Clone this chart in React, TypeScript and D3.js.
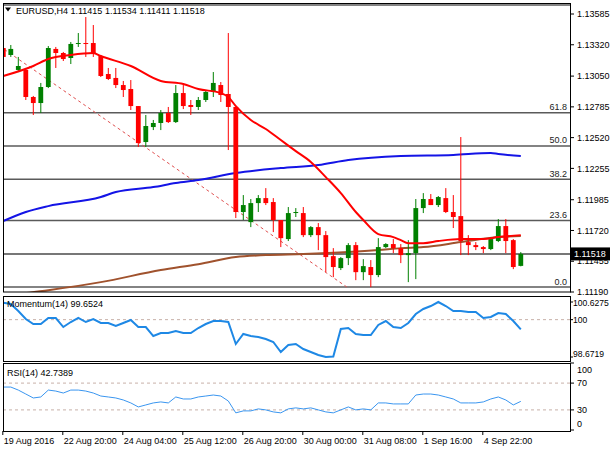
import React from "react";
import * as d3 from "d3";

// EURUSD H4 candles (bar 0 = leftmost)
const open = [
  1.13292, 1.13232, 1.13103, 1.13103, 1.1287, 1.12818, 1.12956, 1.13284, 1.13249, 1.13206,
  1.13327, 1.13335, 1.13335, 1.13223, 1.13068, 1.13034, 1.12973, 1.12939, 1.12792, 1.12482,
  1.12611, 1.12646, 1.12732, 1.12654, 1.12904, 1.12801, 1.12784, 1.12844, 1.12913, 1.12973,
  1.12896, 1.12784, 1.11879, 1.11792, 1.11956, 1.11999, 1.11965, 1.1181, 1.11646, 1.11874,
  1.1187, 1.1168, 1.11749, 1.1168, 1.11499, 1.11396, 1.11482, 1.11594, 1.11361, 1.11405,
  1.11336, 1.11577, 1.11603, 1.11568, 1.11508, 1.11525, 1.11913, 1.11991, 1.11939, 1.11999,
  1.11879, 1.11844, 1.1162, 1.11594, 1.11577, 1.1156, 1.11629, 1.11758, 1.11637, 1.11415,
];
const high = [
  1.13309, 1.13318, 1.13215, 1.1312, 1.12879, 1.12991, 1.13309, 1.13301, 1.13258, 1.13344,
  1.13421, 1.13559, 1.1349, 1.13232, 1.1312, 1.1312, 1.13008, 1.13016, 1.12792, 1.12715,
  1.12672, 1.12758, 1.12784, 1.12973, 1.12973, 1.12844, 1.1287, 1.1293, 1.13085, 1.12999,
  1.13421, 1.12784, 1.12025, 1.11991, 1.12025, 1.12085, 1.11999, 1.1181, 1.11922, 1.11913,
  1.11922, 1.11758, 1.11784, 1.11715, 1.11568, 1.11491, 1.11611, 1.1162, 1.11473, 1.11465,
  1.11654, 1.11611, 1.11646, 1.11603, 1.11637, 1.11991, 1.12042, 1.12034, 1.12017, 1.12085,
  1.12025, 1.12525, 1.1168, 1.1162, 1.11586, 1.11663, 1.11818, 1.11818, 1.11646, 1.11534,
];
const low = [
  1.13172, 1.13215, 1.13085, 1.12844, 1.12715, 1.12732, 1.12947, 1.1312, 1.1318, 1.13154,
  1.13301, 1.13215, 1.13215, 1.13042, 1.13016, 1.12947, 1.1287, 1.12758, 1.12439, 1.12439,
  1.12585, 1.12585, 1.12646, 1.12646, 1.12766, 1.12715, 1.12758, 1.12827, 1.1287, 1.12827,
  1.12413, 1.11827, 1.1181, 1.11749, 1.11879, 1.11939, 1.11706, 1.11577, 1.11629, 1.11836,
  1.11663, 1.11663, 1.11551, 1.11361, 1.11318, 1.11379, 1.11422, 1.11292, 1.11292, 1.11232,
  1.11318, 1.11568, 1.11525, 1.11439, 1.11275, 1.11301, 1.1187, 1.11939, 1.11922, 1.1187,
  1.11741, 1.11508, 1.11508, 1.11551, 1.11525, 1.11551, 1.1162, 1.11525, 1.11387, 1.11411,
];
const close = [
  1.13215, 1.13284, 1.13137, 1.1287, 1.12818, 1.12956, 1.13292, 1.13249, 1.13197, 1.13327,
  1.13335, 1.13327, 1.1324, 1.13051, 1.13025, 1.12973, 1.1293, 1.12792, 1.12473, 1.1262,
  1.12646, 1.12732, 1.12654, 1.12904, 1.12792, 1.12784, 1.12844, 1.12913, 1.12991, 1.12887,
  1.12784, 1.11879, 1.11939, 1.11956, 1.11999, 1.11956, 1.1181, 1.11654, 1.1187, 1.11879,
  1.1168, 1.11749, 1.1168, 1.11491, 1.11405, 1.11482, 1.11594, 1.11361, 1.11413, 1.11336,
  1.11577, 1.11603, 1.11568, 1.11508, 1.11525, 1.11913, 1.11991, 1.11939, 1.12008, 1.11879,
  1.11836, 1.11629, 1.11594, 1.11577, 1.1156, 1.11646, 1.11758, 1.11629, 1.11405, 1.11518,
];

// moving averages, [bar, price] points
const maRed: [number, number][] = [
  [0, 1.13051], [4, 1.13137], [6, 1.13197], [9, 1.13232], [12, 1.13249], [13, 1.13223],
  [17, 1.13137], [21, 1.13008], [24, 1.12982], [26, 1.12939], [29, 1.12904], [30, 1.1287],
  [31, 1.12792], [33, 1.12672], [35, 1.12594], [37, 1.12499], [39, 1.12404], [41, 1.1231],
  [43, 1.1218], [45, 1.12042], [47, 1.11879], [48, 1.1181], [50, 1.11689], [52, 1.11663],
  [53, 1.11637], [54, 1.11611], [56, 1.11611], [58, 1.11629], [61, 1.11646], [64, 1.11646],
  [66, 1.11663], [69, 1.1168],
];
const maBlue: [number, number][] = [
  [0, 1.11801], [3, 1.11879], [6, 1.1193], [13, 1.12008], [15, 1.12051], [20, 1.12094],
  [23, 1.12129], [26, 1.12154], [31, 1.12215], [37, 1.12258], [42, 1.12284], [46, 1.12327],
  [53, 1.12361], [60, 1.1237], [65, 1.12387], [66, 1.12379], [69, 1.12361],
];
const maBrown: [number, number][] = [
  [0, 1.11137], [3, 1.1118], [6, 1.11206], [13, 1.11275], [21, 1.11379], [26, 1.1143],
  [31, 1.11491], [35, 1.11508], [40, 1.11517], [46, 1.11534], [50, 1.11551], [53, 1.11568],
  [56, 1.11577], [61, 1.1162], [66, 1.11663], [69, 1.11672],
];

const momentum = [
  100.6, 100.556, 100.307, 100.023, 99.845, 99.845, 100.059, 100.059, 99.738, 99.916,
  100.059, 99.916, 100.023, 99.881, 99.881, 99.774, 99.881, 99.987, 99.738, 99.738,
  99.418, 99.525, 99.525, 99.596, 99.525, 99.525, 99.703, 99.845, 99.952, 99.952,
  99.916, 99.134, 99.49, 99.418, 99.383, 99.312, 99.205, 98.849, 99.098, 99.134,
  98.956, 98.849, 98.743, 98.6719, 98.69, 99.667, 99.703, 99.49, 99.454, 99.454,
  99.81, 99.952, 99.738, 99.703, 99.881, 100.201, 100.379, 100.485, 100.6275, 100.485,
  100.307, 100.307, 100.272, 100.272, 100.059, 100.094, 100.236, 100.201, 99.952, 99.6524,
];
const rsi = [
  64.1, 64.1, 59.6, 53.7, 47.8, 49.3, 59.6, 58.1, 55.2, 59.6,
  59.6, 58.1, 55.2, 50.7, 49.3, 47.8, 44.8, 40.4, 34.4, 37.4,
  40.4, 41.9, 40.4, 49.3, 46.3, 46.3, 49.3, 50.7, 52.2, 50.7,
  43.3, 25.6, 28.5, 28.5, 31.5, 30.0, 27.0, 25.6, 31.5, 33.0,
  31.5, 33.0, 30.0, 27.0, 25.6, 30.0, 34.4, 30.0, 31.5, 30.0,
  40.4, 40.4, 38.9, 38.9, 38.9, 52.2, 53.7, 53.7, 52.2, 49.3,
  46.3, 40.4, 40.4, 40.4, 41.9, 46.3, 49.3, 44.8, 37.4, 42.7389,
];

const priceTicks = [1.13585, 1.1332, 1.1305, 1.12785, 1.1252, 1.12255, 1.11985, 1.1172, 1.11455, 1.1119];
const momTicks = ["100.6275", "100", "98.6719"];
const rsiTicks = [100, 70, 30, 0];
const timeTicks: [number, string][] = [
  [0, "19 Aug 2016"], [8, "22 Aug 20:00"], [16, "24 Aug 04:00"], [24, "25 Aug 12:00"],
  [32, "26 Aug 20:00"], [40, "30 Aug 00:00"], [48, "31 Aug 08:00"], [56, "1 Sep 16:00"],
  [64, "4 Sep 22:00"],
];

// fibonacci retracement anchors (high off-screen to the left)
const fibHigh = 1.13663;
const fibLow = 1.11233;
const fibHighBar = -8.4;
const fibLowBar = 45.8;
const fibLevels = [0, 23.6, 38.2, 50, 61.8, 100];

const L = 3;
const R = 570;
const mainP = { top: 4, bottom: 292 };
const momP = { top: 296, bottom: 361 };
const rsiP = { top: 363, bottom: 431 };
const font = "'Liberation Sans', Arial, sans-serif";

export default function App() {
  const x = d3.scaleLinear().domain([0, 69]).range([3.3, 520.8]);
  const y = d3.scaleLinear().domain([1.1119, 1.13585]).range([292, 14]);
  const yMom = d3.scaleLinear().domain([98.6719, 100.6275]).range([357, 302]);
  const yRsi = d3.scaleLinear().domain([0, 100]).range([430, 363]);

  const maLine = d3
    .line<[number, number]>()
    .x((d) => x(d[0]))
    .y((d) => y(d[1]))
    .curve(d3.curveMonotoneX);
  const momLine = d3
    .line<number>()
    .x((_, i) => x(i))
    .y((d) => yMom(d));
  const rsiLine = d3
    .line<number>()
    .x((_, i) => x(i))
    .y((d) => yRsi(d));

  const last = close.length - 1;
  const bid = close[last];
  const bw = 4.8;
  const green = "#008000";
  const red = "#ff0000";

  const fibPrice = (lv: number) => fibLow + ((fibHigh - fibLow) * lv) / 100;
  const clampLabel = (v: number, p: { top: number; bottom: number }) =>
    Math.min(Math.max(v, p.top + 7), p.bottom - 7);

  return (
    <svg
      width={610}
      height={450}
      style={{ position: "absolute", left: 0, top: 0, background: "#fff" }}
      fontFamily={font}
      fontSize={9}
    >
      <defs>
        <clipPath id="clipMain">
          <rect x={L} y={mainP.top} width={R - L} height={mainP.bottom - mainP.top} />
        </clipPath>
        <clipPath id="clipMom">
          <rect x={L} y={momP.top} width={R - L} height={momP.bottom - momP.top} />
        </clipPath>
        <clipPath id="clipRsi">
          <rect x={L} y={rsiP.top} width={R - L} height={rsiP.bottom - rsiP.top} />
        </clipPath>
      </defs>
      <rect x={0} y={0} width={610} height={450} fill="#fff" />

      {/* main panel */}
      <g clipPath="url(#clipMain)">
        {fibLevels.map((lv) => (
          <line
            key={lv}
            x1={L}
            x2={R}
            y1={y(fibPrice(lv))}
            y2={y(fibPrice(lv))}
            stroke="#5a5a5a"
            strokeWidth={1.6}
          />
        ))}
        <line x1={L} x2={R} y1={y(bid)} y2={y(bid)} stroke="#4a4a4a" strokeWidth={1.6} />
        <line
          x1={x(fibHighBar)}
          y1={y(fibHigh)}
          x2={x(fibLowBar)}
          y2={y(fibLow)}
          stroke="#e05050"
          strokeWidth={1}
          strokeDasharray="3,3"
        />
        <path d={maLine(maBlue) ?? ""} fill="none" stroke="#1414e6" strokeWidth={2} />
        <path d={maLine(maBrown) ?? ""} fill="none" stroke="#a0522d" strokeWidth={2} />
        {open.map((o, i) => {
          const c = close[i];
          const col = c >= o ? green : red;
          const top = y(Math.max(o, c));
          const h = Math.max(1, y(Math.min(o, c)) - top);
          return (
            <g key={i}>
              <line x1={x(i)} x2={x(i)} y1={y(high[i])} y2={y(low[i])} stroke={col} strokeWidth={1} />
              <rect x={x(i) - bw / 2} y={top} width={bw} height={h} fill={col} />
            </g>
          );
        })}
        <path d={maLine(maRed) ?? ""} fill="none" stroke="#ff0000" strokeWidth={2} />
        {fibLevels
          .filter((lv) => lv < 100)
          .map((lv) => (
            <text key={lv} x={567} y={y(fibPrice(lv)) - 2.5} textAnchor="end" fill="#222">
              {lv.toFixed(1)}
            </text>
          ))}
      </g>
      <rect x={L + 0.5} y={mainP.top - 0.5} width={R - L} height={mainP.bottom - mainP.top + 0.5} fill="none" stroke="#000" />

      <path d="M5,7.5 L11,7.5 L8,11.5 Z" fill="#000" />
      <text x={16} y={13.5} fill="#000">
        {`EURUSD,H4  ${open[last].toFixed(5)} ${high[last].toFixed(5)} ${low[last].toFixed(5)} ${close[last].toFixed(5)}`}
      </text>

      {/* price axis */}
      {priceTicks.map((p) => (
        <g key={p}>
          <line x1={R} x2={R + 4} y1={y(p)} y2={y(p)} stroke="#000" />
          <text x={577} y={y(p)} dy="0.35em" fill="#000">
            {p.toFixed(5)}
          </text>
        </g>
      ))}
      <rect x={571} y={y(bid) - 6.5} width={39} height={13} fill="#000" />
      <text x={574} y={y(bid)} dy="0.35em" fill="#fff">
        {bid.toFixed(5)}
      </text>

      {/* momentum panel */}
      <g clipPath="url(#clipMom)">
        <line x1={L} x2={R} y1={yMom(100)} y2={yMom(100)} stroke="#c8b0a8" strokeDasharray="3,3" />
        <path d={momLine(momentum) ?? ""} fill="none" stroke="#1e88e5" strokeWidth={2} />
      </g>
      <rect x={L + 0.5} y={momP.top + 0.5} width={R - L} height={momP.bottom - momP.top} fill="none" stroke="#000" />
      <text x={7} y={307} fill="#000">
        {`Momentum(14) ${momentum[last].toFixed(4)}`}
      </text>
      {momTicks.map((t) => (
        <g key={t}>
          <line x1={R} x2={R + 3} y1={yMom(+t)} y2={yMom(+t)} stroke="#000" />
          <text x={573} y={clampLabel(yMom(+t), momP)} dy="0.35em" fill="#000" fontSize={8.6}>
            {t}
          </text>
        </g>
      ))}

      {/* rsi panel */}
      <g clipPath="url(#clipRsi)">
        {[70, 30].map((lv) => (
          <line key={lv} x1={L} x2={R} y1={yRsi(lv)} y2={yRsi(lv)} stroke="#c8b0a8" strokeDasharray="3,3" />
        ))}
        <path d={rsiLine(rsi) ?? ""} fill="none" stroke="#3a96f0" strokeWidth={1} />
      </g>
      <rect x={L + 0.5} y={rsiP.top + 0.5} width={R - L} height={rsiP.bottom - rsiP.top} fill="none" stroke="#000" />
      <text x={7} y={376} fill="#000">
        {`RSI(14) ${rsi[last].toFixed(4)}`}
      </text>
      {rsiTicks.map((t) => (
        <g key={t}>
          <line x1={R} x2={R + 4} y1={yRsi(t)} y2={yRsi(t)} stroke="#000" />
          <text x={577} y={clampLabel(yRsi(t), rsiP)} dy="0.35em" fill="#000">
            {t}
          </text>
        </g>
      ))}

      {/* time axis */}
      {timeTicks.map(([b, label]) => (
        <g key={label}>
          <line x1={x(b) - 0.5} x2={x(b) - 0.5} y1={rsiP.bottom} y2={rsiP.bottom + 4} stroke="#000" />
          <text x={x(b) + 0.5} y={444} fill="#000">
            {label}
          </text>
        </g>
      ))}
    </svg>
  );
}
